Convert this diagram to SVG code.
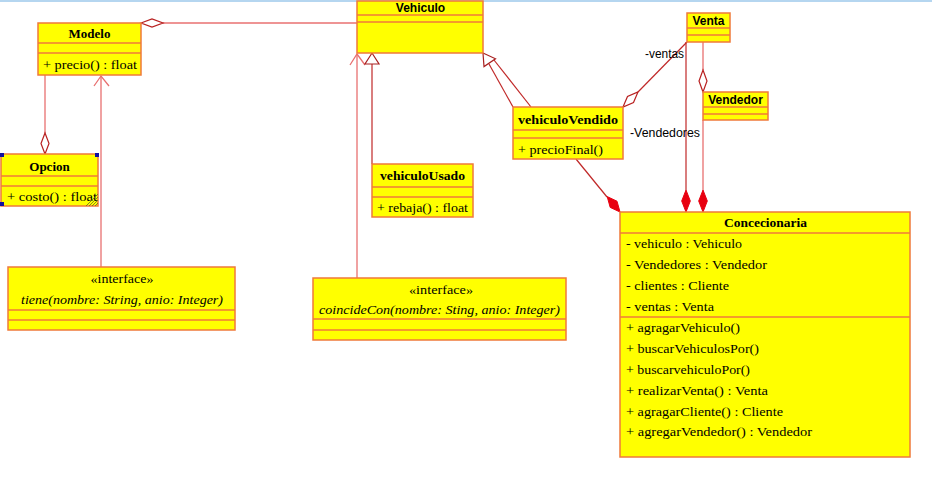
<svg xmlns="http://www.w3.org/2000/svg" width="932" height="483" viewBox="0 0 932 483">
<style>
.box{fill:#ffff00;stroke:#f07a3a;stroke-width:1.5}
.sep{stroke:#f07a3a;stroke-width:1.5;fill:none}
.ln{stroke:#e87070;stroke-width:1.3;fill:none}
.dk{stroke:#c02828;stroke-width:1.2;fill:none}
.agg{fill:#ffffff;stroke:#b82020;stroke-width:1.2}
.gen{fill:#ffffff;stroke:#a82020;stroke-width:1.2}
.comp{fill:#e80010;stroke:#e80010;stroke-width:1}
.s{font-family:"Liberation Serif","Times New Roman",serif;font-size:13px;fill:#000}
.sb{font-family:"Liberation Serif","Times New Roman",serif;font-size:13px;font-weight:bold;fill:#000}
.si{font-family:"Liberation Serif","Times New Roman",serif;font-size:13px;font-style:italic;fill:#000}
.a{font-family:"Liberation Sans",Arial,sans-serif;font-size:12px;fill:#000}
.ab{font-family:"Liberation Sans",Arial,sans-serif;font-size:12px;font-weight:bold;fill:#000}
.h{fill:#1010a0}
</style>
<rect x="0" y="0" width="932" height="483" fill="#ffffff"/>
<rect x="0" y="0" width="932" height="2" fill="#b5d6f0"/>

<g id="connectors">
  <!-- Modelo - Vehiculo aggregation -->
  <line class="ln" x1="163" y1="23" x2="357" y2="23"/>
  <polygon class="agg" points="141,23 152,19 163,23 152,27"/>
  <!-- Modelo - Opcion aggregation -->
  <line class="ln" x1="45" y1="75" x2="45" y2="133"/>
  <polygon class="agg" points="45,154 41,143.5 45,133 49,143.5"/>
  <!-- tiene -> Modelo -->
  <line class="ln" x1="101" y1="76" x2="101" y2="267"/>
  <polyline class="ln" points="94,86 101,76 109,86"/>
  <!-- coincideCon -> Vehiculo -->
  <line class="ln" x1="357" y1="54" x2="357" y2="278"/>
  <polyline class="ln" points="350,65 357,54 365,65"/>
  <!-- vehiculoUsado generalization -->
  <line class="dk" x1="372" y1="64" x2="372" y2="164"/>
  <polygon class="gen" points="372,53 379,64 365,64"/>
  <!-- vehiculoVendido generalization -->
  <line class="dk" x1="489" y1="64" x2="513" y2="107"/>
  <line class="dk" x1="494" y1="60" x2="531" y2="107"/>
  <polygon class="gen" points="483,53 495.5,58.8 484,66.6"/>
  <!-- Venta - vehiculoVendido -->
  <line class="dk" x1="687" y1="42" x2="638" y2="92"/>
  <polygon class="agg" points="623,107 627.5,96.5 638,92 633.5,102.5"/>
  <text class="a" x="645" y="58" textLength="39" lengthAdjust="spacingAndGlyphs">-ventas</text>
  <!-- Venta - Concecionaria -->
  <line class="dk" x1="686" y1="42" x2="686" y2="190"/>
  <polygon class="comp" points="686,212 681.7,201 686,190 690.3,201"/>
  <text class="a" x="630" y="137" textLength="70" lengthAdjust="spacingAndGlyphs">-Vendedores</text>
  <!-- Venta - Vendedor -->
  <line class="ln" x1="703" y1="42" x2="703" y2="70"/>
  <polygon class="agg" points="703,92 699,81 703,70 707,81"/>
  <!-- Vendedor - Concecionaria -->
  <line class="ln" x1="703" y1="120" x2="703" y2="190"/>
  <polygon class="comp" points="703,212 698.7,201 703,190 707.3,201"/>
  <!-- vehiculoVendido - Concecionaria -->
  <line class="dk" x1="576" y1="159" x2="607" y2="197"/>
  <polygon class="comp" points="620,212 610.2,207.4 607.2,196.6 617,201.2"/>
</g>

<g id="Modelo">
  <rect class="box" x="38" y="23" width="103" height="52"/>
  <line class="sep" x1="38" y1="43" x2="141" y2="43"/>
  <line class="sep" x1="38" y1="53" x2="141" y2="53"/>
  <text class="sb" x="89.5" y="38" text-anchor="middle">Modelo</text>
  <text class="s" x="43" y="69" textLength="94" lengthAdjust="spacingAndGlyphs">+ precio() : float</text>
</g>

<g id="Opcion">
  <rect class="box" x="1" y="154" width="97" height="52"/>
  <line class="sep" x1="1" y1="176" x2="98" y2="176"/>
  <line class="sep" x1="1" y1="186" x2="98" y2="186"/>
  <text class="sb" x="49.5" y="171" text-anchor="middle">Opcion</text>
  <text class="s" x="7" y="201" textLength="90" lengthAdjust="spacingAndGlyphs">+ costo() : float</text>
  <g stroke="#6a6a20" stroke-width="0.8">
    <line x1="86" y1="206" x2="98" y2="194"/>
    <line x1="89" y1="206" x2="98" y2="197"/>
    <line x1="92" y1="206" x2="98" y2="200"/>
    <line x1="95" y1="206" x2="98" y2="203"/>
  </g>
  <rect class="h" x="0" y="153" width="4" height="4"/>
  <rect class="h" x="95" y="153" width="4" height="4"/>
  <rect class="h" x="0" y="202" width="4" height="4"/>
</g>

<g id="Vehiculo">
  <rect class="box" x="357" y="1" width="126" height="52"/>
  <line class="sep" x1="357" y1="15" x2="483" y2="15"/>
  <line class="sep" x1="357" y1="22" x2="483" y2="22"/>
  <text class="ab" x="420.5" y="12" text-anchor="middle">Vehiculo</text>
</g>

<g id="vehiculoUsado">
  <rect class="box" x="372" y="164" width="101" height="53"/>
  <line class="sep" x1="372" y1="187" x2="473" y2="187"/>
  <line class="sep" x1="372" y1="197" x2="473" y2="197"/>
  <text class="sb" x="422.5" y="180" text-anchor="middle" textLength="85" lengthAdjust="spacingAndGlyphs">vehiculoUsado</text>
  <text class="s" x="377" y="212" textLength="91" lengthAdjust="spacingAndGlyphs">+ rebaja() : float</text>
</g>

<g id="vehiculoVendido">
  <rect class="box" x="513" y="107" width="110" height="52"/>
  <line class="sep" x1="513" y1="130" x2="623" y2="130"/>
  <line class="sep" x1="513" y1="138" x2="623" y2="138"/>
  <text class="sb" x="568" y="124" text-anchor="middle" textLength="100" lengthAdjust="spacingAndGlyphs">vehiculoVendido</text>
  <text class="s" x="518" y="154" textLength="85" lengthAdjust="spacingAndGlyphs">+ precioFinal()</text>
</g>

<g id="Venta">
  <rect class="box" x="687" y="13" width="43" height="29"/>
  <line class="sep" x1="687" y1="28" x2="730" y2="28"/>
  <line class="sep" x1="687" y1="35" x2="730" y2="35"/>
  <text class="ab" x="708.5" y="25" text-anchor="middle">Venta</text>
</g>

<g id="Vendedor">
  <rect class="box" x="703" y="92" width="65" height="28"/>
  <line class="sep" x1="703" y1="107" x2="768" y2="107"/>
  <line class="sep" x1="703" y1="114" x2="768" y2="114"/>
  <text class="ab" x="735.5" y="104" text-anchor="middle">Vendedor</text>
</g>

<g id="tiene">
  <rect class="box" x="8" y="267" width="227" height="63"/>
  <line class="sep" x1="8" y1="310" x2="235" y2="310"/>
  <line class="sep" x1="8" y1="320" x2="235" y2="320"/>
  <text class="s" x="122" y="283" text-anchor="middle" textLength="63" lengthAdjust="spacingAndGlyphs">«interface»</text>
  <text class="si" x="21" y="304" textLength="202" lengthAdjust="spacingAndGlyphs">tiene(nombre: String, anio: Integer)</text>
</g>

<g id="coincideCon">
  <rect class="box" x="313" y="278" width="253" height="62"/>
  <line class="sep" x1="313" y1="319" x2="566" y2="319"/>
  <line class="sep" x1="313" y1="330" x2="566" y2="330"/>
  <text class="s" x="441" y="294" text-anchor="middle" textLength="64" lengthAdjust="spacingAndGlyphs">«interface»</text>
  <text class="si" x="319" y="314" textLength="241" lengthAdjust="spacingAndGlyphs">coincideCon(nombre: Sting, anio: Integer)</text>
</g>

<g id="Concecionaria">
  <rect class="box" x="620" y="212" width="290" height="245"/>
  <line class="sep" x1="620" y1="233" x2="910" y2="233"/>
  <line class="sep" x1="620" y1="317" x2="910" y2="317"/>
  <text class="sb" x="765.5" y="227" text-anchor="middle" textLength="83" lengthAdjust="spacingAndGlyphs">Concecionaria</text>
  <text class="s" x="626" y="248" textLength="116" lengthAdjust="spacingAndGlyphs">- vehiculo : Vehiculo</text>
  <text class="s" x="626" y="269" textLength="141" lengthAdjust="spacingAndGlyphs">- Vendedores : Vendedor</text>
  <text class="s" x="626" y="290" textLength="103" lengthAdjust="spacingAndGlyphs">- clientes : Cliente</text>
  <text class="s" x="626" y="311" textLength="88" lengthAdjust="spacingAndGlyphs">- ventas : Venta</text>
  <text class="s" x="626" y="332" textLength="114" lengthAdjust="spacingAndGlyphs">+ agragarVehiculo()</text>
  <text class="s" x="626" y="353" textLength="133" lengthAdjust="spacingAndGlyphs">+ buscarVehiculosPor()</text>
  <text class="s" x="626" y="374" textLength="124" lengthAdjust="spacingAndGlyphs">+ buscarvehiculoPor()</text>
  <text class="s" x="626" y="395" textLength="142" lengthAdjust="spacingAndGlyphs">+ realizarVenta() : Venta</text>
  <text class="s" x="626" y="416" textLength="157" lengthAdjust="spacingAndGlyphs">+ agragarCliente() : Cliente</text>
  <text class="s" x="626" y="436" textLength="186" lengthAdjust="spacingAndGlyphs">+ agregarVendedor() : Vendedor</text>
</g>
</svg>
